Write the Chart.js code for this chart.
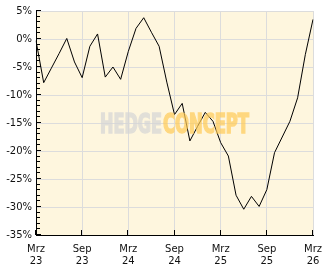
<!DOCTYPE html>
<html>
<head>
<meta charset="utf-8">
<script src="https://cdn.jsdelivr.net/npm/chart.js@4.4.1/dist/chart.umd.min.js"></script>
<style>
html,body{margin:0;padding:0;background:#fff;}
#wrap{width:332px;height:269px;position:relative;}
</style>
</head>
<body>
<div id="wrap"><canvas id="c" width="332" height="269"></canvas></div>
<script>
const months = ['Mrz 23','Apr 23','Mai 23','Jun 23','Jul 23','Aug 23','Sep 23','Okt 23','Nov 23','Dez 23','Jan 24','Feb 24',
  'Mrz 24','Apr 24','Mai 24','Jun 24','Jul 24','Aug 24','Sep 24','Okt 24','Nov 24','Dez 24','Jan 25','Feb 25',
  'Mrz 25','Apr 25','Mai 25','Jun 25','Jul 25','Aug 25','Sep 25','Okt 25','Nov 25','Dez 25','Jan 26','Feb 26','Mrz 26'];
const performance = [-0.3,-7.8,-5.2,-2.6,0.1,-4.1,-6.9,-1.3,0.9,-6.8,-5.0,-7.2,
  -2.2,1.9,3.8,1.2,-1.3,-7.7,-13.5,-11.5,-18.2,-15.6,-13.1,-14.7,
  -18.5,-20.9,-27.9,-30.4,-28.1,-29.9,-26.9,-20.3,-17.5,-14.7,-10.5,-2.8,3.5];
const yMin = -35, yMax = 5;
const watermarkParts = ['HEDGE','CONCEPT'];

const FONT = "'DejaVu Sans', sans-serif";

const bgPlugin = {
  id: 'bg',
  beforeDraw(chart) {
    const {ctx, chartArea: a} = chart;
    ctx.save();
    ctx.fillStyle = '#fef6de';
    ctx.fillRect(a.left, a.top, a.right - a.left, a.bottom - a.top);
    ctx.restore();
  }
};

const overlayPlugin = {
  id: 'overlay',
  afterDraw(chart) {
    const ctx = chart.ctx;
    const a = chart.chartArea;
    const ys = chart.scales.y, xs = chart.scales.x;

    // inward tick marks
    ctx.save();
    ctx.fillStyle = '#000';
    for (let v = yMin; v <= yMax; v += 1) {
      const py = Math.round(ys.getPixelForValue(v));
      ctx.fillRect(Math.round(a.left), py - 1, (v % 5 === 0 ? 5 : 4), 1);
    }
    for (let i = 0; i < months.length; i += 6) {
      const px = Math.round(xs.getPixelForValue(i));
      ctx.fillRect(px - 1, Math.round(a.bottom) - 5, 1, 5);
    }
    ctx.restore();

    // watermark on offscreen canvas, composited with transparency
    const off = document.createElement('canvas');
    off.width = chart.width; off.height = chart.height;
    const o = off.getContext('2d');
    const cx = (a.left + a.right) / 2, cy = (a.top + a.bottom) / 2;
    o.font = "bold 26px 'Liberation Sans Narrow', 'DejaVu Sans Condensed', sans-serif";
    o.textBaseline = 'alphabetic';
    o.textAlign = 'left';
    o.lineWidth = 1.6;
    const base = cy + 9.5;
    const w1 = 62, w2 = 86, gap = 1;
    const x0 = cx - (w1 + w2 + gap) / 2;
    o.fillStyle = o.strokeStyle = 'rgb(214,214,214)';
    o.fillText(watermarkParts[0], x0, base, w1);
    o.strokeText(watermarkParts[0], x0, base, w1);
    o.fillStyle = o.strokeStyle = 'rgb(255,203,88)';
    o.fillText(watermarkParts[1], x0 + w1 + gap, base, w2);
    o.strokeText(watermarkParts[1], x0 + w1 + gap, base, w2);
    ctx.save();
    ctx.globalAlpha = 0.7;
    ctx.drawImage(off, 0, 0);
    ctx.restore();
  }
};

new Chart(document.getElementById('c'), {
  type: 'line',
  data: {
    labels: months,
    datasets: [{
      data: performance,
      borderColor: '#000',
      borderWidth: 1,
      pointRadius: 0,
      tension: 0,
      fill: false
    }]
  },
  options: {
    responsive: false,
    animation: false,
    devicePixelRatio: 1,
    layout: {padding: {top: 11, right: 19, left: 0, bottom: 0}},
    plugins: {legend: {display: false}, tooltip: {enabled: false}},
    scales: {
      x: {
        type: 'category',
        offset: false,
        afterFit(s) { s.height = 34; },
        grid: {
          drawTicks: false,
          color: c => (c.index % 6 === 0 ? '#dcdcdc' : 'rgba(0,0,0,0)'),
          lineWidth: 1
        },
        border: {color: '#000', width: 1},
        ticks: {
          autoSkip: false,
          maxRotation: 0,
          padding: 8,
          color: '#111',
          font: {family: FONT, size: 10, lineHeight: 1.2},
          callback: function(val, idx) {
            return idx % 6 === 0 ? this.getLabelForValue(val).split(' ') : '';
          }
        }
      },
      y: {
        min: yMin, max: yMax,
        afterFit(s) { s.width = 36; },
        grid: {drawTicks: false, color: '#dcdcdc', lineWidth: 1},
        border: {color: '#000', width: 1},
        ticks: {
          stepSize: 5,
          padding: 4,
          color: '#111',
          font: {family: FONT, size: 10},
          callback: v => v + '%'
        }
      }
    }
  },
  plugins: [bgPlugin, overlayPlugin]
});
</script>
</body>
</html>
